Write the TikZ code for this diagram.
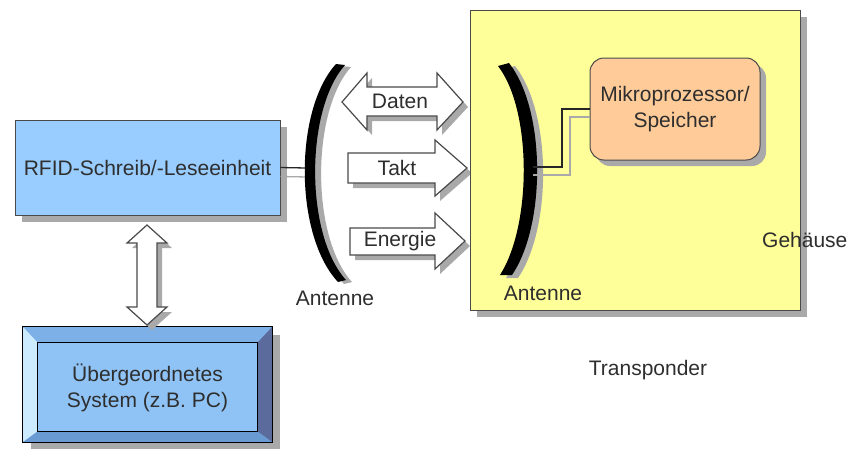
\documentclass[tikz,border=0pt]{standalone}
\usepackage{fontspec}
\setmainfont{Liberation Sans}
\usetikzlibrary{shadows,calc}
\definecolor{txtgray}{HTML}{2E2E2E}
\definecolor{edgegray}{HTML}{4A4A4A}
\definecolor{shadegray}{HTML}{A9A9A9}
\definecolor{rfidblue}{HTML}{99CCFF}
\definecolor{bevmid}{HTML}{8FC3F5}
\definecolor{bevtop}{HTML}{7DB0E6}
\definecolor{bevleft}{HTML}{CDEBFF}
\definecolor{bevright}{HTML}{5B6C9C}
\definecolor{bevbottom}{HTML}{6A9AD2}
\definecolor{tpyellow}{HTML}{FFFF99}
\definecolor{cpuorange}{HTML}{FFCC99}
\begin{document}
\begin{tikzpicture}[x=1pt,y=-1pt,
  font=\fontsize{21}{26}\selectfont,
  txt/.style={text=txtgray, inner sep=0pt, align=center},
  boxshade/.style={drop shadow={shadow xshift=#1, shadow yshift=-#1, fill=shadegray, opacity=1}},
  boxshade/.default=7pt,
  block/.style={draw=edgegray, line width=1pt, inner sep=0pt, text=txtgray, align=center},
  fatarrow/.style={draw=edgegray, fill=white, line width=1.2pt, line join=miter,
    drop shadow={shadow xshift=5pt, shadow yshift=-5pt, fill=shadegray, opacity=1}},
  wire/.style={draw=black!85, line width=1.3pt},
  wireshade/.style={draw=shadegray, line width=1.3pt}]
\useasboundingbox (0,0) rectangle (847,448);

% reader unit
\node[block, fill=rfidblue, minimum width=265pt, minimum height=95pt, boxshade] (rfid)
  at (147.5,167.5) {RFID-Schreib/-Leseeinheit};

% host system with bevelled frame
\node[draw=black, line width=0.8pt, fill=bevmid, minimum width=249pt, minimum height=115pt,
  inner sep=0pt, boxshade=8pt] (sys) at (147.5,384.5) {};
\fill[bevtop] (sys.north west) -- (sys.north east) -- ($(sys.north east)+(-15,16)$)
  -- ($(sys.north west)+(15,16)$) -- cycle;
\fill[bevleft] (sys.north west) -- ($(sys.north west)+(15,16)$)
  -- ($(sys.south west)+(15,-11)$) -- (sys.south west) -- cycle;
\fill[bevright] (sys.north east) -- ($(sys.north east)+(-15,16)$)
  -- ($(sys.south east)+(-15,-11)$) -- (sys.south east) -- cycle;
\fill[bevbottom] (sys.south west) -- ($(sys.south west)+(15,-11)$)
  -- ($(sys.south east)+(-15,-11)$) -- (sys.south east) -- cycle;
\draw[black, line width=0.8pt] ($(sys.north west)+(15,16)$) rectangle ($(sys.south east)+(-15,-11)$);
\draw[black, line width=0.8pt] (sys.north west) rectangle (sys.south east);
\node[txt] (systext) at ($(sys.center)+(0,3)$) {Übergeordnetes\\System (z.B. PC)};

% link between host and reader
\draw[fatarrow] (147,225) -- (167,243) -- (157,243) -- (157,307) -- (167,307) -- (147,325)
  -- (127,307) -- (137,307) -- (137,243) -- (127,243) -- cycle;

% reader antenna
\coordinate (antL) at (306,168);
\draw[wireshade] ($(rfid.east)+(0,9)$) -- ($(antL)+(2,9)$);
\draw[wire] (rfid.east) -- (antL);
\fill[shadegray, shift={(6,2)}] (336,64) .. controls (294,110) and (294,235) .. (338,282)
  -- (346,280) .. controls (305,235) and (305,110) .. (345,65) -- cycle;
\fill[black] (336,64) .. controls (294,110) and (294,235) .. (338,282)
  -- (346,280) .. controls (305,235) and (305,110) .. (345,65) -- cycle;
\node[txt] (antLlabel) at (335,298) {Antenne};

% air interface
\draw[fatarrow] (342,102) -- (367,73) -- (367,87) -- (437,87) -- (437,73) -- (463,102)
  -- (437,130) -- (437,116) -- (367,116) -- (367,130) -- cycle;
\node[txt] (daten) at (400,101) {Daten};
\draw[fatarrow] (348,153) -- (435,153) -- (435,140) -- (467,168) -- (435,196) -- (435,183)
  -- (348,183) -- cycle;
\node[txt] (takt) at (397,168) {Takt};
\draw[fatarrow] (350,228) -- (435,228) -- (435,213) -- (465,241) -- (435,269) -- (435,255)
  -- (350,255) -- cycle;
\node[txt] (energie) at (400,241) {Energie};

% transponder housing
\node[block, fill=tpyellow, minimum width=330pt, minimum height=300pt, boxshade] (tp)
  at (635,160) {};

% transponder antenna
\fill[shadegray, shift={(6,3)}] (509,63) .. controls (546,110) and (546,225) .. (512,275)
  -- (500,275) .. controls (532,225) and (532,110) .. (498,66) -- cycle;
\fill[black] (509,63) .. controls (546,110) and (546,225) .. (512,275)
  -- (500,275) .. controls (532,225) and (532,110) .. (498,66) -- cycle;
\coordinate (antR) at (533,167);
\node[txt] (antRlabel) at (543,293) {Antenne};

% chip
\node[block, fill=cpuorange, rounded corners=14pt, minimum width=170pt, minimum height=102pt,
  boxshade=6pt] (cpu) at (675,109) {Mikroprozessor/\\Speicher};
\draw[wireshade] ($(antR)+(0,8)$) -- ++(37,0) |- ($(cpu.west)+(0,8)$);
\draw[wire] (antR) -- ++(29,0) |- (cpu.west);

\node[txt, anchor=west] (gehaeuse) at (762,240) {Gehäuse};
\node[txt] (transponder) at (648,370) {Transponder};
\end{tikzpicture}
\end{document}
